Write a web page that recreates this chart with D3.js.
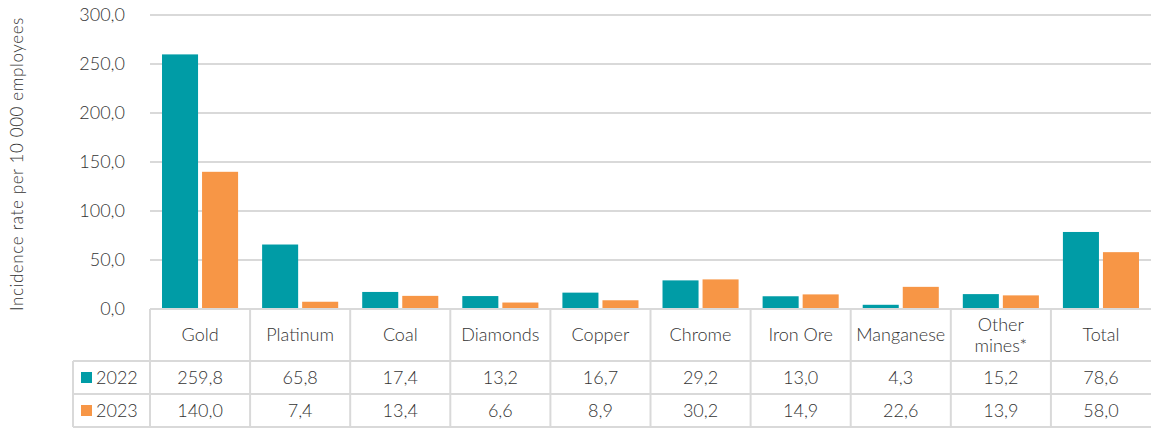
<!DOCTYPE html>
<html>
<head>
<meta charset="utf-8">
<script src="https://cdn.jsdelivr.net/npm/d3@7"></script>
<style>
  html, body { margin: 0; padding: 0; background: #fff; }
  svg { display: block; font-family: Lato, "Open Sans", sans-serif; font-weight: 300; }
</style>
</head>
<body>
<div id="chart"></div>
<script>
const categories = ['Gold', 'Platinum', 'Coal', 'Diamonds', 'Copper', 'Chrome', 'Iron Ore', 'Manganese', 'Other mines*', 'Total'];
const years = ['2022', '2023'];
const values2022 = [259.8, 65.8, 17.4, 13.2, 16.7, 29.2, 13.0, 4.3, 15.2, 78.6];
const values2023 = [140.0, 7.4, 13.4, 6.6, 8.9, 30.2, 14.9, 22.6, 13.9, 58.0];
const yTicks = [0, 50, 100, 150, 200, 250, 300];

const width = 1151;
const height = 428;
const colors = { '2022': '#009ca6', '2023': '#f79646' };
const gridColor = '#d9d9d9';
const textColor = '#333333';

const plot = { left: 150, right: 1151, top: 15, bottom: 309 };
const table = { headerBottom: 361, row1Bottom: 394, row2Bottom: 427, legendLeft: 73 };

const fmt = (v) => d3.format('.1f')(v).replace('.', ',');

const svg = d3.select('#chart').append('svg')
  .attr('width', width)
  .attr('height', height);

const x = d3.scaleBand()
  .domain(categories)
  .range([plot.left, plot.right])
  .paddingInner(0)
  .paddingOuter(0);

const x1 = d3.scaleBand()
  .domain(years)
  .range([0, x.bandwidth()])
  .paddingInner(0.1)
  .paddingOuter(0.3);

const y = d3.scaleLinear()
  .domain([0, 300])
  .range([plot.bottom, plot.top]);

// gridlines
svg.append('g')
  .selectAll('line')
  .data(yTicks.filter(d => d > 0))
  .join('line')
  .attr('x1', plot.left)
  .attr('x2', plot.right)
  .attr('y1', d => y(d))
  .attr('y2', d => y(d))
  .attr('stroke', gridColor)
  .attr('stroke-width', 2);

// y tick labels
const yAxis = d3.axisLeft(y).tickValues(yTicks).tickFormat(fmt).tickSize(0).tickPadding(0);
const yg = svg.append('g')
  .attr('transform', `translate(${plot.left - 25},0)`)
  .call(yAxis);
yg.select('.domain').remove();
yg.selectAll('text')
  .attr('fill', textColor)
  .style('font-family', 'Lato, sans-serif')
  .style('font-weight', 300)
  .style('font-size', '18px');

// y axis title
svg.append('text')
  .attr('transform', `translate(23,${(plot.top + plot.bottom) / 2 + 2}) rotate(-90)`)
  .attr('text-anchor', 'middle')
  .attr('fill', textColor)
  .style('font-size', '17px')
  .style('letter-spacing', '0.6px')
  .text('Incidence rate per 10 000 employees');

// bars
const series = [
  { year: '2022', values: values2022 },
  { year: '2023', values: values2023 }
];

const groups = svg.append('g')
  .selectAll('g')
  .data(categories)
  .join('g')
  .attr('transform', d => `translate(${x(d)},0)`);

groups.selectAll('rect')
  .data((d, i) => series.map(s => ({ year: s.year, value: s.values[i] })))
  .join('rect')
  .attr('x', d => x1(d.year))
  .attr('width', x1.bandwidth())
  .attr('y', d => y(d.value))
  .attr('height', d => y(0) - y(d.value))
  .attr('fill', d => colors[d.year]);

// data table
const tableG = svg.append('g');
const line = (x1v, y1v, x2v, y2v) => tableG.append('line')
  .attr('x1', x1v).attr('y1', y1v).attr('x2', x2v).attr('y2', y2v)
  .attr('stroke', gridColor).attr('stroke-width', 2);

line(plot.left, plot.bottom, plot.right, plot.bottom);
line(table.legendLeft, table.headerBottom, plot.right, table.headerBottom);
line(table.legendLeft, table.row1Bottom, plot.right, table.row1Bottom);
line(table.legendLeft, table.row2Bottom, plot.right, table.row2Bottom);
line(table.legendLeft, table.headerBottom, table.legendLeft, table.row2Bottom);
categories.forEach((c) => {
  line(x(c), plot.bottom, x(c), table.row2Bottom);
});

// header labels
categories.forEach((c) => {
  const cx = x(c) + x.bandwidth() / 2;
  const parts = c === 'Other mines*' ? ['Other', 'mines*'] : [c];
  const mid = (plot.bottom + table.headerBottom) / 2;
  parts.forEach((p, j) => {
    tableG.append('text')
      .attr('x', cx)
      .attr('y', mid + 6 + (j - (parts.length - 1) / 2) * 21)
      .attr('text-anchor', 'middle')
      .attr('fill', textColor)
      .style('font-size', '18px')
      .text(p);
  });
});

// rows
const rowMids = [(table.headerBottom + table.row1Bottom) / 2, (table.row1Bottom + table.row2Bottom) / 2];
series.forEach((s, r) => {
  tableG.append('rect')
    .attr('x', 81)
    .attr('y', rowMids[r] - 5.5)
    .attr('width', 11)
    .attr('height', 11)
    .attr('fill', colors[s.year]);
  tableG.append('text')
    .attr('x', 96)
    .attr('y', rowMids[r] + 6.5)
    .attr('fill', textColor)
    .style('font-size', '18px')
    .text(s.year);
  categories.forEach((c, i) => {
    tableG.append('text')
      .attr('x', x(c) + x.bandwidth() / 2)
      .attr('y', rowMids[r] + 6.5)
      .attr('text-anchor', 'middle')
      .attr('fill', textColor)
      .style('font-size', '18px')
      .text(fmt(s.values[i]));
  });
});
</script>
</body>
</html>
